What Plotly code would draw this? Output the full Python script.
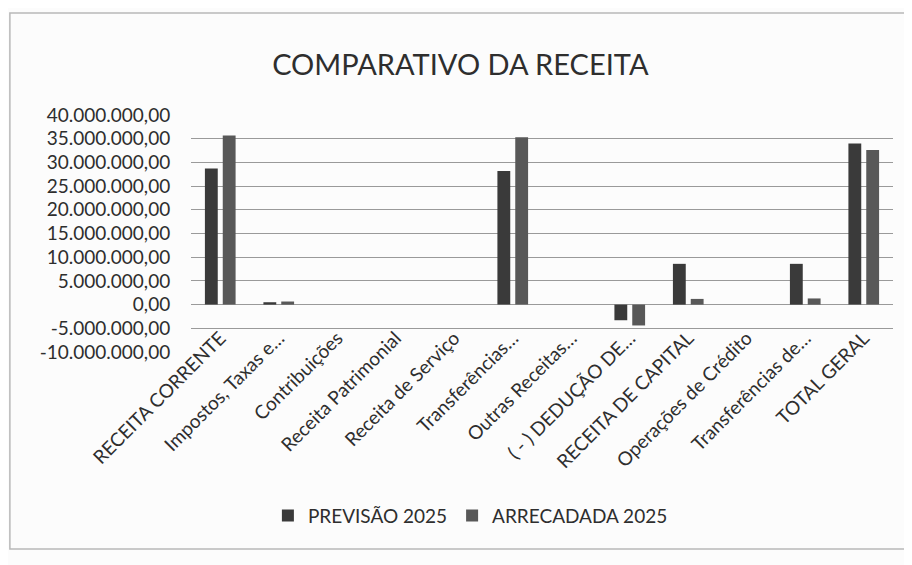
import plotly.graph_objects as go

categorias = ["RECEITA CORRENTE", "Impostos, Taxas e…", "Contribuições", "Receita Patrimonial",
              "Receita de Serviço", "Transferências…", "Outras Receitas…", "( - ) DEDUÇÃO DE…",
              "RECEITA DE CAPITAL", "Operações de Crédito", "Transferências de…", "TOTAL GERAL"]
previsao_2025 = [28700000, 500000, 0, 0, 0, 28200000, 0, -3300000, 8600000, 0, 8600000, 34000000]
arrecadada_2025 = [35700000, 650000, 0, 0, 0, 35300000, 0, -4400000, 1200000, 0, 1300000, 32600000]
y_ticks = [40000000, 35000000, 30000000, 25000000, 20000000, 15000000, 10000000, 5000000, 0,
           -5000000, -10000000]
y_tick_labels = ["40.000.000,00", "35.000.000,00", "30.000.000,00", "25.000.000,00", "20.000.000,00",
                 "15.000.000,00", "10.000.000,00", "5.000.000,00", "0,00", "-5.000.000,00",
                 "-10.000.000,00"]

posicoes = list(range(len(categorias)))
FONT = "Lato"
TXT = "#2e2e2e"
CLEAR = "rgba(0,0,0,0)"

fig = go.Figure()
fig.add_trace(go.Bar(x=posicoes, y=previsao_2025, name="PREVISÃO 2025",
                     marker=dict(color="#3a3a3a", line=dict(width=0))))
fig.add_trace(go.Bar(x=posicoes, y=arrecadada_2025, name="ARRECADADA 2025",
                     marker=dict(color="#585858", line=dict(width=0))))

fig.update_layout(
    width=912, height=565,
    paper_bgcolor="#fcfcfc", plot_bgcolor="#fcfcfc",
    font=dict(family=FONT, color=TXT),
    title=dict(text="COMPARATIVO DA RECEITA", xref="container", x=0.496, xanchor="center",
               yref="container", y=0.899, yanchor="middle",
               font=dict(size=29, family=FONT, color=TXT)),
    barmode="group", bargap=0.39, bargroupgap=0.28,
    margin=dict(l=183, r=27, t=107, b=221),
    showlegend=True,
    legend=dict(orientation="h", x=0.398, xanchor="center", y=-0.69, yanchor="middle",
                font=dict(size=19, family=FONT, color=TXT), itemwidth=30,
                bgcolor=CLEAR),
    xaxis=dict(tickmode="array", tickvals=posicoes, ticktext=categorias, tickangle=-45,
               range=[-0.5, len(categorias) - 0.5], showgrid=False, zeroline=False,
               showline=False, ticks="outside", ticklen=14, tickcolor=CLEAR,
               anchor="free", position=0.2, automargin=False,
               tickfont=dict(size=19, family=FONT, color=TXT)),
    yaxis=dict(range=[-10000000, 40000000], tickmode="array", tickvals=y_ticks,
               ticktext=y_tick_labels, showgrid=True, gridcolor="#9a9a9a", gridwidth=1.2,
               zeroline=True, zerolinecolor="#9a9a9a", zerolinewidth=1.2, showline=False,
               ticks="outside", ticklen=16, tickcolor=CLEAR, automargin=False,
               tickfont=dict(size=19, family=FONT, color=TXT)),
    shapes=[dict(type="rect", xref="paper", yref="paper", x0=-0.258, x1=1.036, y0=-0.831, y1=1.43,
                 line=dict(color="#b8b8b8", width=1.5), fillcolor=CLEAR)],
)

fig.write_html("out.html")
